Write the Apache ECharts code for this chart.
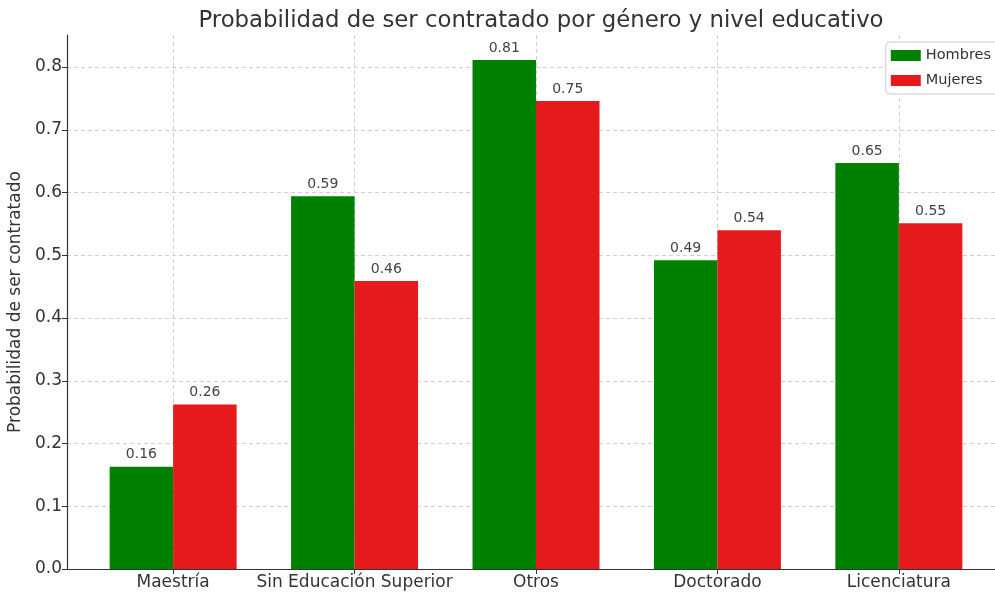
<!DOCTYPE html>
<html><head><meta charset="utf-8">
<script src="https://cdn.jsdelivr.net/npm/echarts@6/dist/echarts.min.js"></script>
<style>html,body{margin:0;padding:0;background:#fff}#c{width:995px;height:592px}</style>
</head><body><div id="c"></div>
<script>
const categories = ['Maestría', 'Sin Educación Superior', 'Otros', 'Doctorado', 'Licenciatura'];
const hombres = [0.163, 0.594, 0.811, 0.492, 0.647];
const mujeres = [0.262, 0.459, 0.746, 0.540, 0.551];
const seriesNames = ['Hombres', 'Mujeres'];
const yTicks = [0, 0.1, 0.2, 0.3, 0.4, 0.5, 0.6, 0.7, 0.8];

const barHalf = 0.175;
const idx = categories.map((_, i) => i);
const font = 'DejaVu Sans';
const chart = echarts.init(document.getElementById('c'));
const labelCfg = {
  show: true, position: 'top', distance: 5, fontFamily: font, fontSize: 14, color: '#444',
  formatter: p => p.value[1].toFixed(2)
};
chart.setOption({
  animation: false,
  title: {
    text: 'Probabilidad de ser contratado por género y nivel educativo',
    left: 536, top: 5, textAlign: 'center',
    textStyle: { fontFamily: font, fontSize: 22.8, fontWeight: 'normal', color: '#333' }
  },
  legend: {
    data: seriesNames, orient: 'vertical', right: -4, top: 42, icon: 'rect',
    itemWidth: 30, itemHeight: 11, itemGap: 10,
    backgroundColor: '#fff', borderColor: '#ccc', borderWidth: 1, borderRadius: 4,
    padding: [6, 8, 6, 5],
    textStyle: { fontFamily: font, fontSize: 14.5, color: '#333' }
  },
  grid: { left: 67, right: -10, top: 35, bottom: 23, outerBoundsMode: 'none', containLabel: false },
  xAxis: {
    type: 'value', min: -0.585, max: 4.585,
    axisLine: { show: true, onZero: false, lineStyle: { color: '#333', width: 1.2 } },
    axisTick: { show: true, customValues: idx, length: 5, lineStyle: { color: '#333' } },
    axisLabel: {
      customValues: idx, fontFamily: font, fontSize: 17, color: '#333', margin: 5,
      formatter: v => categories[Math.round(v)]
    },
    splitLine: { show: true, lineStyle: { color: '#d0d0d0', type: [4, 3] } }
  },
  yAxis: {
    type: 'value', min: 0, max: 0.851,
    name: 'Probabilidad de ser contratado', nameLocation: 'middle', nameGap: 40,
    nameTextStyle: { fontFamily: font, fontSize: 17, color: '#333' },
    axisLine: { show: true, onZero: false, lineStyle: { color: '#333', width: 1.2 } },
    axisTick: { show: true, customValues: yTicks, length: 5, lineStyle: { color: '#333' } },
    axisLabel: {
      customValues: yTicks, fontFamily: font, fontSize: 17, color: '#333', margin: 5,
      formatter: v => v.toFixed(1)
    },
    splitLine: { show: true, lineStyle: { color: '#d0d0d0', type: [4, 3] } }
  },
  series: [
    {
      name: seriesNames[0], type: 'bar', barWidth: 63.5, barGap: '-100%',
      itemStyle: { color: '#008000' }, label: labelCfg,
      data: hombres.map((v, i) => [i - barHalf, v])
    },
    {
      name: seriesNames[1], type: 'bar', barWidth: 63.5, barGap: '-100%',
      itemStyle: { color: '#e41a1c' }, label: labelCfg,
      data: mujeres.map((v, i) => [i + barHalf, v])
    }
  ]
});
</script></body></html>
